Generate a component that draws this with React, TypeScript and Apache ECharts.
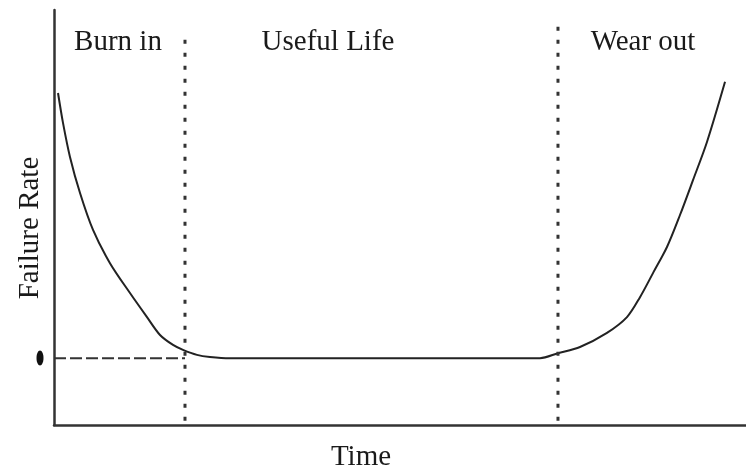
import React, { useEffect, useRef } from "react";
import * as echarts from "echarts";

// Bathtub curve: time (0-100) vs failure rate (0-100)
const timeVals = [0.58, 1.3, 2.31, 3.76, 5.64, 8.09, 10.98, 13.44, 15.32, 17.2, 18.64, 20.66, 22.54, 25.43, 40.0, 55.0, 70.23, 72.83, 76.01, 79.91, 82.8, 84.68, 86.56, 88.58, 90.46, 92.34, 94.36, 96.97];
const rateVals = [80.0, 72.8, 64.6, 55.9, 47.0, 39.0, 31.8, 26.0, 21.7, 19.3, 18.1, 16.9, 16.4, 16.1, 16.1, 16.1, 16.1, 17.3, 18.8, 22.2, 26.0, 30.8, 36.6, 42.9, 50.6, 59.0, 68.2, 82.7];

const phaseNames = ["Burn in", "Useful Life", "Wear out"];
const burnInEnd = 18.93;
const wearOutStart = 72.83;
const burnInTop = 94.5;
const wearOutTop = 97.1;
const boundaryBottom = 1.0;
const usefulRate = 16.1;
const xAxisTitle = "Time";
const yAxisTitle = "Failure Rate";

export default function App() {
  const ref = useRef<HTMLDivElement>(null);
  useEffect(() => {
    if (!ref.current) return;
    const chart = echarts.init(ref.current, null, { renderer: "svg" });
    const font = "'Liberation Serif', 'Times New Roman', serif";
    const textStyle = (x: number, y: number, t: string, rot = 0) => ({
      type: "text",
      x,
      y,
      rotation: rot,
      style: {
        text: t,
        fill: "#1a1a1a",
        font: `29px ${font}`,
        align: "center",
        verticalAlign: "middle",
      },
    });
    chart.setOption({
      animation: false,
      grid: { left: 54, right: 0, top: 10, bottom: 45 },
      xAxis: {
        type: "value",
        min: 0,
        max: 100,
        axisLine: { show: true, lineStyle: { color: "#333", width: 2.5 } },
        axisTick: { show: false },
        axisLabel: { show: false },
        splitLine: { show: false },
      },
      yAxis: {
        type: "value",
        min: 0,
        max: 100,
        axisLine: { show: true, lineStyle: { color: "#333", width: 2.5 } },
        axisTick: { show: false },
        axisLabel: { show: false },
        splitLine: { show: false },
      },
      series: [
        {
          type: "line",
          data: timeVals.map((t, i) => [t, rateVals[i]]),
          smooth: 0.3,
          symbol: "none",
          lineStyle: { color: "#222", width: 2 },
        },
        {
          type: "line",
          data: [[burnInEnd, boundaryBottom], [burnInEnd, burnInTop]],
          symbol: "none",
          lineStyle: { color: "#333", width: 3, type: [4, 9] },
        },
        {
          type: "line",
          data: [[wearOutStart, boundaryBottom], [wearOutStart, wearOutTop]],
          symbol: "none",
          lineStyle: { color: "#333", width: 3, type: [4, 9] },
        },
        {
          type: "line",
          data: [[0, usefulRate], [burnInEnd, usefulRate]],
          symbol: "none",
          lineStyle: { color: "#333", width: 2, type: [12, 4] },
        },
      ],
      graphic: [
        textStyle(118, 40, phaseNames[0]),
        textStyle(328, 40, phaseNames[1]),
        textStyle(643, 40, phaseNames[2]),
        textStyle(361, 455, xAxisTitle),
        textStyle(28, 228, yAxisTitle, Math.PI / 2),
        {
          type: "ellipse",
          shape: { cx: 40, cy: 358, rx: 3.5, ry: 7.5 },
          style: { fill: "#111" },
        },
      ],
    });
    return () => chart.dispose();
  }, []);
  return (
    <div
      ref={ref}
      style={{ position: "fixed", left: 0, top: 0, width: 746, height: 470 }}
    />
  );
}
